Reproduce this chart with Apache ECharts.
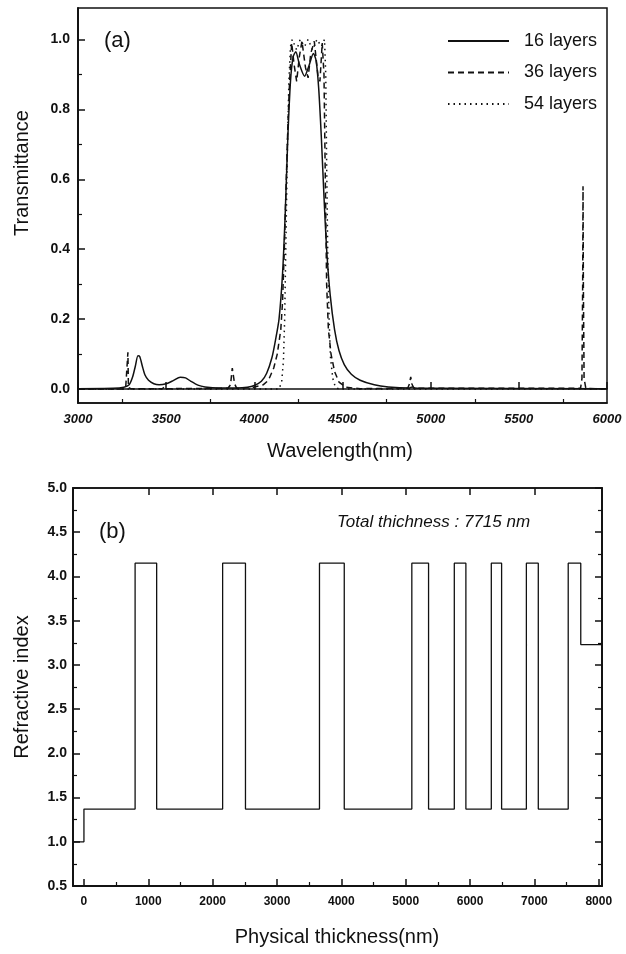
<!DOCTYPE html>
<html>
<head>
<meta charset="utf-8">
<title>Transmittance / refractive index</title>
<script src="https://cdn.jsdelivr.net/npm/echarts@6/dist/echarts.min.js"></script>
<style>
  html, body { margin: 0; padding: 0; background: #fff; }
  #chart { width: 626px; height: 954px; }
</style>
</head>
<body>
<div id="chart"></div>
<script>
// (a) transmittance spectra
var wl16 = [3000, 3200, 3260, 3290, 3310, 3325, 3340, 3350, 3365, 3380, 3400, 3430, 3460, 3500, 3540, 3580, 3610, 3640, 3680, 3720, 3800, 3900, 3960, 4000, 4040, 4070, 4100, 4120, 4140, 4160, 4175, 4190, 4205, 4220, 4235, 4255, 4285, 4310, 4335, 4350, 4365, 4380, 4395, 4410, 4430, 4455, 4480, 4510, 4550, 4600, 4680, 4760, 4880, 4895, 4910, 5000, 6000];
var t16  = [0.001, 0.002, 0.005, 0.012, 0.035, 0.065, 0.095, 0.093, 0.065, 0.040, 0.025, 0.015, 0.012, 0.015, 0.024, 0.034, 0.032, 0.022, 0.011, 0.006, 0.003, 0.003, 0.005, 0.010, 0.022, 0.045, 0.090, 0.140, 0.200, 0.330, 0.500, 0.720, 0.880, 0.950, 0.965, 0.930, 0.895, 0.925, 0.960, 0.940, 0.860, 0.720, 0.550, 0.400, 0.270, 0.170, 0.110, 0.070, 0.042, 0.025, 0.012, 0.006, 0.003, 0.006, 0.003, 0.002, 0.001];

var wl36 = [3000, 3270, 3280, 3283, 3286, 3300, 3480, 3490, 3500, 3850, 3865, 3875, 3880, 3888, 3900, 3990, 4050, 4080, 4110, 4130, 4150, 4160, 4170, 4180, 4190, 4200, 4212, 4225, 4240, 4255, 4270, 4290, 4305, 4320, 4340, 4360, 4372, 4385, 4395, 4400, 4405, 4410, 4420, 4435, 4455, 4480, 4520, 4600, 4870, 4880, 4887, 4893, 4905, 5850, 5858, 5862, 5864, 5866, 5870, 5880, 6000];
var t36  = [0.000, 0.000, 0.004, 0.105, 0.004, 0.001, 0.001, 0.008, 0.001, 0.002, 0.012, 0.060, 0.060, 0.015, 0.002, 0.004, 0.012, 0.025, 0.060, 0.100, 0.170, 0.250, 0.400, 0.580, 0.750, 0.880, 0.990, 0.930, 0.880, 0.950, 0.995, 0.920, 0.890, 0.960, 0.995, 0.900, 0.880, 0.990, 0.900, 0.700, 0.500, 0.300, 0.170, 0.100, 0.050, 0.020, 0.005, 0.001, 0.002, 0.015, 0.035, 0.015, 0.002, 0.002, 0.030, 0.300, 0.580, 0.300, 0.030, 0.002, 0.000];

var wl54 = [3000, 4140, 4155, 4165, 4172, 4180, 4188, 4196, 4205, 4215, 4240, 4260, 4285, 4305, 4330, 4355, 4380, 4398, 4405, 4410, 4416, 4424, 4432, 4445, 4460, 4480, 6000];
var t54  = [0.000, 0.000, 0.020, 0.080, 0.200, 0.450, 0.700, 0.880, 0.980, 1.000, 0.970, 1.000, 0.980, 1.000, 0.970, 1.000, 0.980, 1.000, 0.900, 0.650, 0.400, 0.200, 0.090, 0.030, 0.005, 0.000, 0.000];

// (b) refractive index profile: each value holds from its x to the next x
var depth = [-170, 0, 795, 1130, 2155, 2510, 3660, 4045, 5095, 5355, 5755, 5935, 6330, 6490, 6875, 7060, 7525, 7720, 8050];
var index = [1.00, 1.37, 4.15, 1.37, 4.15, 1.37, 4.15, 1.37, 4.15, 1.37, 4.15, 1.37, 4.15, 1.37, 4.15, 1.37, 4.15, 3.23, 3.23];

// tick positions
var ticksWl    = [3000, 3500, 4000, 4500, 5000, 5500, 6000];
var minorWl    = [3250, 3750, 4250, 4750, 5250, 5750];
var ticksT     = [0, 0.2, 0.4, 0.6, 0.8, 1.0];
var minorT     = [0.1, 0.3, 0.5, 0.7, 0.9];
var ticksDepth = [0, 1000, 2000, 3000, 4000, 5000, 6000, 7000, 8000];
var minorDepth = [500, 1500, 2500, 3500, 4500, 5500, 6500, 7500];
var ticksN     = [0.5, 1.0, 1.5, 2.0, 2.5, 3.0, 3.5, 4.0, 4.5, 5.0];
var minorN     = [0.75, 1.25, 1.75, 2.25, 2.75, 3.25, 3.75, 4.25, 4.75];

var seriesNames = ['16 layers', '36 layers', '54 layers'];

function zip(xs, ys) {
  return xs.map(function (x, i) { return [x, ys[i]]; });
}

var FONT = '"Liberation Sans", Arial, sans-serif';
var INK = '#111';

var majorTick = { show: true, inside: true, length: 7, lineStyle: { color: INK, width: 1.5 } };
var smallTick = { show: true, inside: true, length: 4, lineStyle: { color: INK, width: 1.2 } };
function ticks(base, values) {
  return Object.assign({ customValues: values }, base);
}

// an axis that only draws tick marks (used for minor ticks and mirrored sides)
function tickAxis(grid, pos, min, max, tick, values) {
  return {
    gridIndex: grid, type: 'value', position: pos, offset: 0, min: min, max: max,
    axisLine: { show: true, onZero: false, lineStyle: { color: INK, width: 1.5 } },
    axisTick: ticks(tick, values),
    axisLabel: { show: false },
    splitLine: { show: false }
  };
}

var labelY = { fontFamily: FONT, fontSize: 14, fontWeight: 'bold', color: INK };

var option = {
  animation: false,
  backgroundColor: '#fff',
  grid: [
    { left: 78, right: 19, top: 8, height: 395, show: true, borderColor: INK, borderWidth: 1.5, backgroundColor: 'transparent' },
    { left: 73, right: 24, top: 488, height: 398, show: true, borderColor: INK, borderWidth: 1.5, backgroundColor: 'transparent' }
  ],
  legend: {
    data: seriesNames,
    orient: 'vertical',
    left: 442,
    top: 27,
    itemWidth: 61,
    itemHeight: 14,
    itemGap: 13.5,
    itemStyle: { opacity: 0 },
    textStyle: { fontFamily: FONT, fontSize: 18, color: INK, lineHeight: 18, padding: [0, 0, 0, 10] }
  },
  xAxis: [
    // top plot
    {
      gridIndex: 0, type: 'value', position: 'bottom', min: 3000, max: 6000,
      axisLine: { lineStyle: { color: INK, width: 1.5 } },
      axisTick: ticks(majorTick, ticksWl),
      axisLabel: { customValues: ticksWl, margin: 10, fontFamily: FONT, fontSize: 13, fontWeight: 'bold', fontStyle: 'italic', color: INK,
        formatter: function (v) { return String(v); } },
      splitLine: { show: false }
    },
    tickAxis(0, 'bottom', 3000, 6000, smallTick, minorWl),
    // bottom plot
    {
      gridIndex: 1, type: 'value', position: 'bottom', min: -170, max: 8050,
      axisLine: { onZero: false, lineStyle: { color: INK, width: 1.5 } },
      axisTick: ticks(majorTick, ticksDepth),
      axisLabel: { customValues: ticksDepth, margin: 10, fontFamily: FONT, fontSize: 12, fontWeight: 'bold', color: INK,
        formatter: function (v) { return String(v); } },
      splitLine: { show: false }
    },
    tickAxis(1, 'bottom', -170, 8050, smallTick, minorDepth),
    tickAxis(1, 'top', -170, 8050, majorTick, ticksDepth.slice(1, 8))
  ],
  yAxis: [
    {
      gridIndex: 0, type: 'value', position: 'left', min: -0.04, max: 1.09,
      axisLine: { show: true, onZero: false, lineStyle: { color: INK, width: 1.5 } },
      axisTick: ticks(majorTick, ticksT),
      axisLabel: Object.assign({ customValues: ticksT, margin: 8, formatter: function (v) { return v.toFixed(1); } }, labelY),
      splitLine: { show: false }
    },
    tickAxis(0, 'left', -0.04, 1.09, smallTick, minorT),
    {
      gridIndex: 1, type: 'value', position: 'left', min: 0.5, max: 5.0,
      axisLine: { show: true, onZero: false, lineStyle: { color: INK, width: 1.5 } },
      axisTick: ticks(majorTick, ticksN),
      axisLabel: Object.assign({ customValues: ticksN, margin: 6, formatter: function (v) { return v.toFixed(1); } }, labelY),
      splitLine: { show: false }
    },
    tickAxis(1, 'left', 0.5, 5.0, smallTick, minorN),
    tickAxis(1, 'right', 0.5, 5.0, majorTick, ticksN),
    tickAxis(1, 'right', 0.5, 5.0, smallTick, minorN)
  ],
  series: [
    {
      name: seriesNames[0], type: 'line', xAxisIndex: 0, yAxisIndex: 0,
      data: zip(wl16, t16), symbol: 'none', smooth: 0.25,
      lineStyle: { color: INK, width: 1.5, type: 'solid' }, itemStyle: { color: INK }
    },
    {
      name: seriesNames[1], type: 'line', xAxisIndex: 0, yAxisIndex: 0,
      data: zip(wl36, t36), symbol: 'none',
      lineStyle: { color: INK, width: 1.5, type: [6, 4] }, itemStyle: { color: INK }
    },
    {
      name: seriesNames[2], type: 'line', xAxisIndex: 0, yAxisIndex: 0,
      data: zip(wl54, t54), symbol: 'none',
      lineStyle: { color: INK, width: 1.5, type: [1.5, 4] }, itemStyle: { color: INK }
    },
    {
      name: 'profile', type: 'line', xAxisIndex: 2, yAxisIndex: 2,
      data: zip(depth, index), step: 'end', symbol: 'none',
      lineStyle: { color: INK, width: 1.3 }, itemStyle: { color: INK }
    }
  ],
  graphic: [
    // axis titles
    { type: 'text', x: 22, y: 173, rotation: Math.PI / 2,
      style: { text: 'Transmittance', fontFamily: FONT, fontSize: 20, fill: INK, align: 'center', verticalAlign: 'middle' } },
    { type: 'text', x: 340, y: 451,
      style: { text: 'Wavelength(nm)', fontFamily: FONT, fontSize: 20, fill: INK, align: 'center', verticalAlign: 'middle' } },
    { type: 'text', x: 22, y: 687, rotation: Math.PI / 2,
      style: { text: 'Refractive index', fontFamily: FONT, fontSize: 20, fill: INK, align: 'center', verticalAlign: 'middle' } },
    { type: 'text', x: 337, y: 937,
      style: { text: 'Physical thickness(nm)', fontFamily: FONT, fontSize: 20, fill: INK, align: 'center', verticalAlign: 'middle' } },
    // panel labels
    { type: 'text', x: 104, y: 41,
      style: { text: '(a)', fontFamily: FONT, fontSize: 22, fill: INK, align: 'left', verticalAlign: 'middle' } },
    { type: 'text', x: 99, y: 532,
      style: { text: '(b)', fontFamily: FONT, fontSize: 22, fill: INK, align: 'left', verticalAlign: 'middle' } },
    { type: 'text', x: 337, y: 522,
      style: { text: 'Total thichness : 7715 nm', fontFamily: FONT, fontSize: 17, fontStyle: 'italic', fill: INK, align: 'left', verticalAlign: 'middle' } }
  ]
};

var chart = echarts.init(document.getElementById('chart'));
chart.setOption(option);
</script>
</body>
</html>
